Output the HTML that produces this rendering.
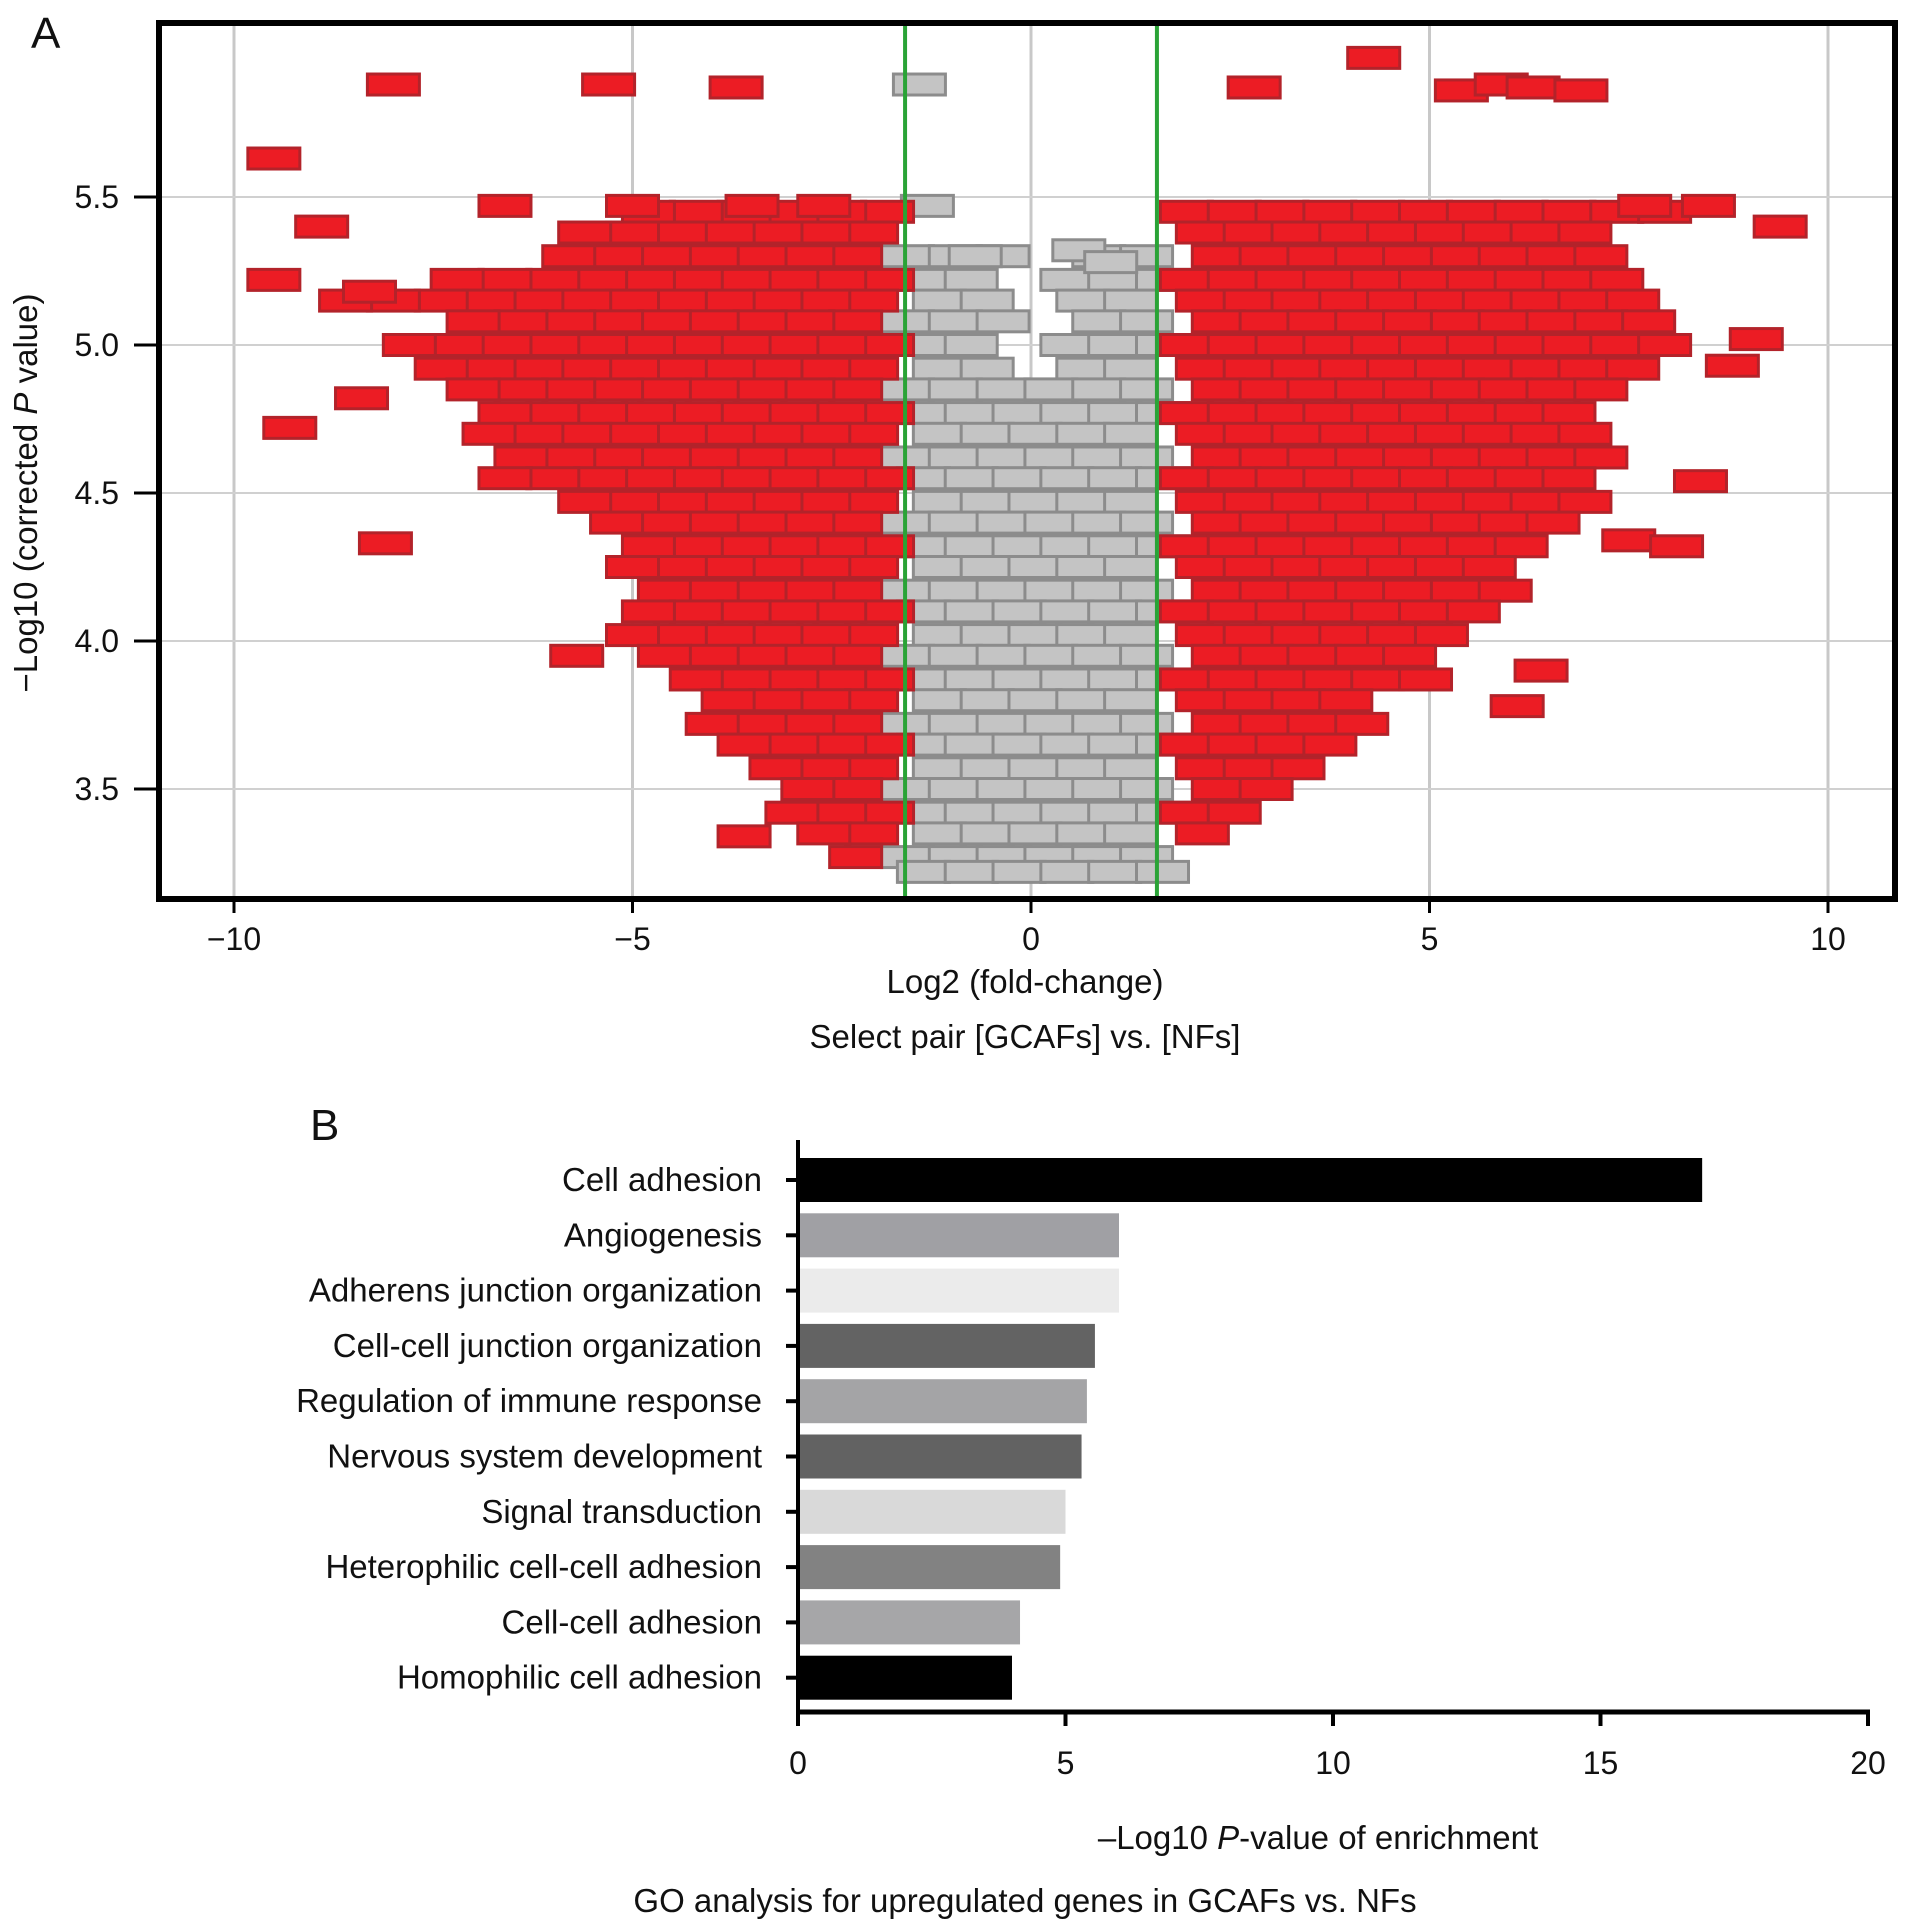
<!DOCTYPE html>
<html><head><meta charset="utf-8"><style>
html,body{margin:0;padding:0;background:#fff}
svg{display:block}
text{font-family:"Liberation Sans",sans-serif;fill:#111}
</style></head><body>
<svg id="fig" width="1913" height="1931" viewBox="0 0 1913 1931">
<g id="panelA"></g>
<g id="panelB"></g>
</svg>
<script>
// ---------- Panel A data ----------
const xTicksA = [-10, -5, 0, 5, 10];
const yTicksA = [3.5, 4.0, 4.5, 5.0, 5.5];
const yTickLabelsA = ["3.5", "4.0", "4.5", "5.0", "5.5"];
const foldThreshold = [-1.58, 1.58];
// dense red field rows: y level, leftmost x, rightmost x
const redRowY = [5.45,5.38,5.30,5.22,5.15,5.08,5.00,4.92,4.85,4.77,4.70,4.62,4.55,4.47,4.40,4.32,4.25,4.17,4.10,4.02,3.95,3.87,3.80,3.72,3.65,3.57,3.50,3.42,3.35,3.27];
const redRowMin = [-5.0,-5.8,-6.3,-7.5,-8.8,-7.2,-7.8,-7.5,-7.2,-7.0,-6.8,-6.5,-6.8,-5.8,-5.3,-5.0,-5.0,-4.8,-4.8,-5.0,-4.8,-4.5,-4.3,-4.0,-3.6,-3.4,-3.2,-3.0,-2.7,-2.2];
const redRowMax = [8.0,7.5,7.2,7.8,8.0,8.3,8.0,7.8,7.5,7.3,7.5,7.2,7.0,7.3,6.8,6.5,6.3,6.0,5.8,5.5,5.3,5.0,4.5,4.2,4.0,3.8,3.5,3.0,2.5,2.2];
const grayRowY = [5.30,5.22,5.15,5.08,5.00,4.92,4.85,4.77,4.70,4.62,4.55,4.47,4.40,4.32,4.25,4.17,4.10,4.02,3.95,3.87,3.80,3.72,3.65,3.57,3.50,3.42,3.35,3.27,3.22];
// isolated outlier genes
const outX = [-8.0,-5.3,-3.7,2.8,4.3,5.4,5.9,6.3,6.9,-9.5,-9.3,-8.1,-8.4,-8.9,-6.6,9.4,8.5,7.7,9.1,8.8,8.4,7.5,8.1,6.1,6.4,-5.7,-3.6,-9.5,-8.3,-5.0,-3.5,-2.6];
const outY = [5.88,5.88,5.87,5.87,5.97,5.86,5.88,5.87,5.86,5.63,4.72,4.33,4.82,5.40,5.47,5.40,5.47,5.47,5.02,4.93,4.54,4.34,4.32,3.78,3.90,3.95,3.34,5.22,5.18,5.47,5.47,5.47];
const grayOutX = [-1.4,-1.3,-0.7,0.6,1.0];
const grayOutY = [5.88,5.47,5.30,5.32,5.28];

// ---------- Panel B data ----------
const goTerms = ["Cell adhesion","Angiogenesis","Adherens junction organization","Cell-cell junction organization","Regulation of immune response","Nervous system development","Signal transduction","Heterophilic cell-cell adhesion","Cell-cell adhesion","Homophilic cell adhesion"];
const goValues = [16.9,6.0,6.0,5.55,5.4,5.3,5.0,4.9,4.15,4.0];
const goColors = ["#000000","#a0a0a4","#ebebeb","#636363","#a4a4a6","#626262","#d9d9d9","#828282","#a6a6a8","#000000"];
const xTicksB = [0,5,10,15,20];

const NS = "http://www.w3.org/2000/svg";
function mk(tag, attrs, parent, txt){const e=document.createElementNS(NS,tag);for(const k in attrs)e.setAttribute(k,attrs[k]);if(txt!==undefined)e.textContent=txt;parent.appendChild(e);return e;}

// ---------- Panel A ----------
const A = document.getElementById('panelA');
const L=159, R=1895, T=23, B=899;
const xA = v => 1031 + v*79.7;
const yA = v => 197 + (5.5 - v)*296;
const RW=52, RH=21;

let t = mk('text',{x:31,y:48,'font-size':44},A,'A');



xTicksA.forEach(v=>{
  const g = mk('line',{x1:xA(v),x2:xA(v),y1:T,y2:B,stroke:'#c8c8c8','stroke-width':3},A);
  
  
});
yTicksA.forEach(v=>{
  const g = mk('line',{x1:L,x2:R,y1:yA(v),y2:yA(v),stroke:'#d0d0d0','stroke-width':2},A);
  
  
});

function box(x,y,red){
  const r = mk('rect',{x:xA(x)-RW/2,y:yA(y)-RH/2,width:RW,height:RH,fill:red?'#ec1c24':'#c4c4c4',stroke:red?'#b3232a':'#8c8c8c','stroke-width':3},A);
  
  
}
grayRowY.forEach((y,i)=>{
  const off = (i%3)*0.2;
  for(let x=-1.55+off; x<=1.75; x+=0.6){
    if(y>4.85 && Math.abs(x)<0.3) continue;
    box(x,y,false);
  }
});
grayOutX.forEach((x,i)=>box(x,grayOutY[i],false));
redRowY.forEach((y,i)=>{
  const off=(i%3)*0.2;
  for(let x=-1.8-off; x>=redRowMin[i]; x-=0.6) box(x,y,true);
  for(let x=1.95+off; x<=redRowMax[i]; x+=0.6) box(x,y,true);
});
outX.forEach((x,i)=>box(x,outY[i],true));

foldThreshold.forEach(v=>{
  const g = mk('line',{x1:xA(v),x2:xA(v),y1:T,y2:B,stroke:'#2aa336','stroke-width':4},A);
  
  
});
let fr = mk('rect',{x:L,y:T,width:R-L,height:B-T,fill:'none',stroke:'#000','stroke-width':6},A);



yTicksA.forEach((v,i)=>{
  mk('line',{x1:134,x2:L,y1:yA(v),y2:yA(v),stroke:'#000','stroke-width':3},A);
  const tl = mk('text',{x:119,y:yA(v)+11,'font-size':32,'text-anchor':'end'},A,yTickLabelsA[i]);
  
  
});
xTicksA.forEach(v=>{
  mk('line',{x1:xA(v),x2:xA(v),y1:B,y2:B+14,stroke:'#000','stroke-width':3},A);
  const tl = mk('text',{x:xA(v),y:950,'font-size':32,'text-anchor':'middle'},A,(v<0?'\u2212':'')+Math.abs(v));
  
  
});
t = mk('text',{x:1025,y:993,'font-size':33,'text-anchor':'middle'},A,'Log2 (fold-change)');


t = mk('text',{x:1025,y:1048,'font-size':33,'text-anchor':'middle'},A,'Select pair [GCAFs] vs. [NFs]');


t = mk('text',{x:0,y:0,'font-size':33,'text-anchor':'middle',transform:'translate(37,493) rotate(-90)'},A);


t.innerHTML = '\u2212Log10 (corrected <tspan font-style="italic">P</tspan> value)';

// ---------- Panel B ----------
const Bp = document.getElementById('panelB');
const x0 = 798, axY = 1712, topY = 1140;
const xB = v => x0 + v*53.5;
const rowC = i => 1180 + i*55.3;
const BH = 44;
t = mk('text',{x:310,y:1140,'font-size':44},Bp,'B');



goTerms.forEach((name,i)=>{
  const r = mk('rect',{x:x0,y:rowC(i)-BH/2,width:xB(goValues[i])-x0,height:BH,fill:goColors[i]},Bp);
  
  
  mk('line',{x1:x0-12,x2:x0,y1:rowC(i),y2:rowC(i),stroke:'#000','stroke-width':4},Bp);
  const l = mk('text',{x:762,y:rowC(i)+11,'font-size':33,'text-anchor':'end'},Bp,name);
  
  
});
let ax = mk('line',{x1:x0,x2:x0,y1:topY,y2:axY,stroke:'#000','stroke-width':4},Bp);


ax = mk('line',{x1:x0-2,x2:xB(20)+2,y1:axY,y2:axY,stroke:'#000','stroke-width':5},Bp);


xTicksB.forEach(v=>{
  mk('line',{x1:xB(v),x2:xB(v),y1:axY,y2:axY+14,stroke:'#000','stroke-width':4},Bp);
  const tl = mk('text',{x:xB(v),y:1774,'font-size':32,'text-anchor':'middle'},Bp,String(v));
  
  
});
t = mk('text',{x:1318,y:1849,'font-size':33,'text-anchor':'middle'},Bp);


t.innerHTML = '\u2013Log10 <tspan font-style="italic">P</tspan>-value of enrichment';
t = mk('text',{x:1025,y:1912,'font-size':33,'text-anchor':'middle'},Bp,'GO analysis for upregulated genes in GCAFs vs. NFs');


</script>
</body></html>
